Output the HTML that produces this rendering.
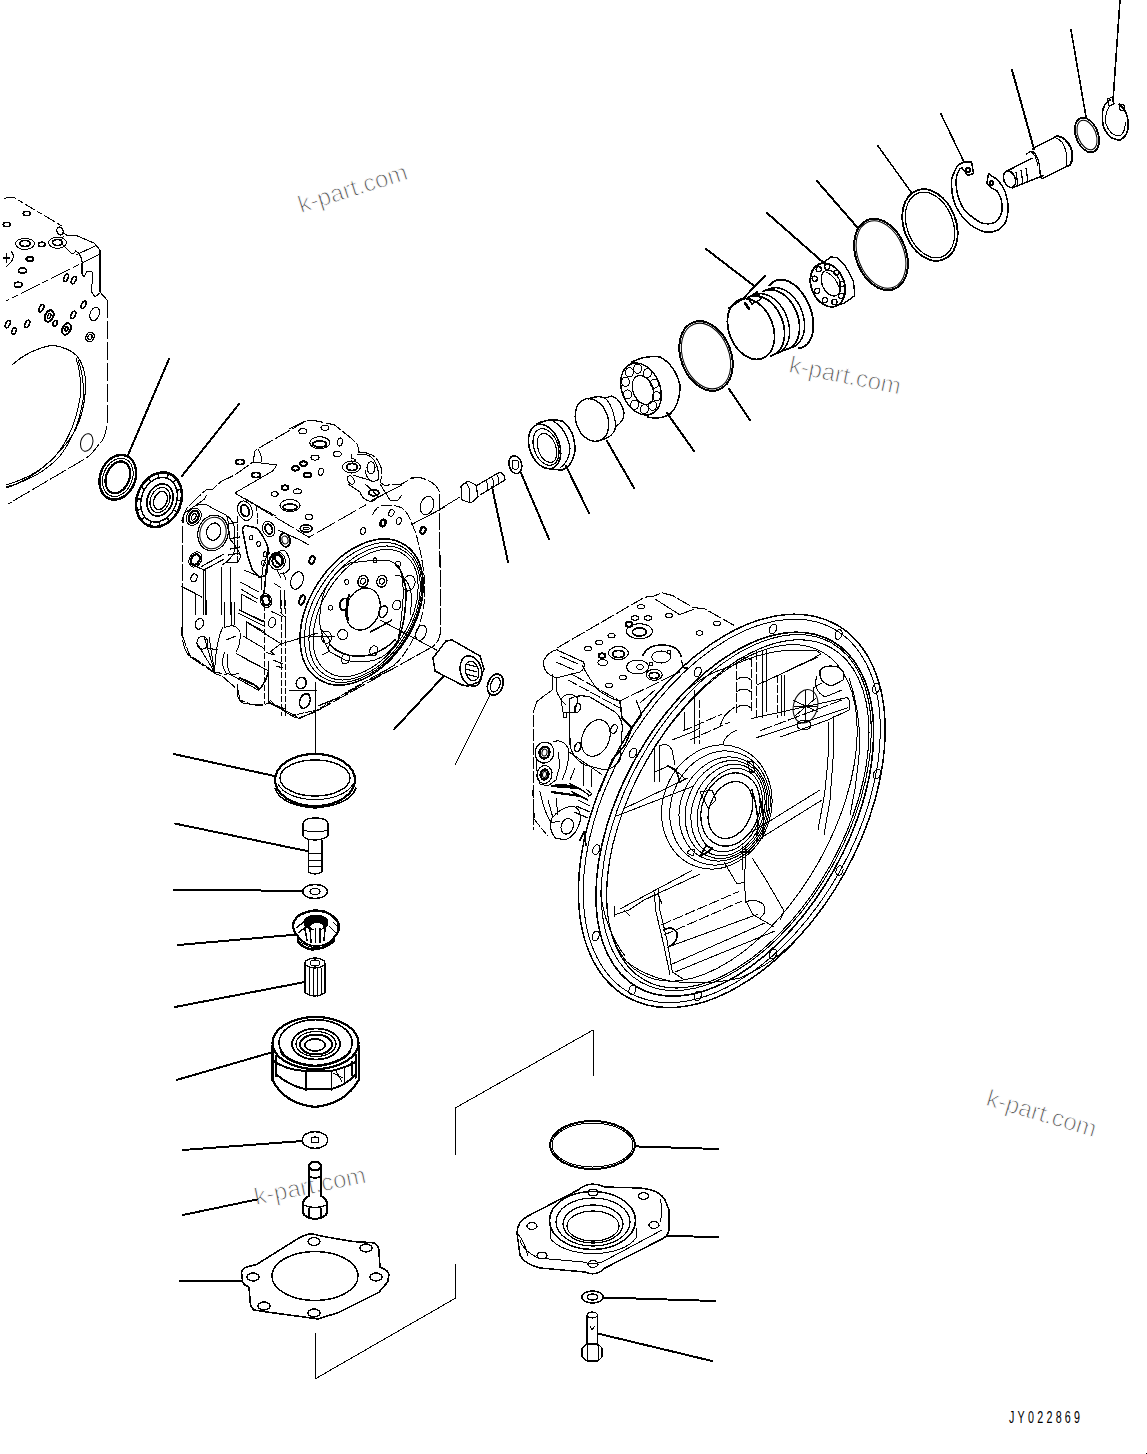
<!DOCTYPE html>
<html><head><meta charset="utf-8"><style>
html,body{margin:0;padding:0;background:#fff;width:1147px;height:1454px;overflow:hidden}
svg{display:block}
.wm{font-family:"Liberation Sans",sans-serif;font-size:24px;fill:#555;stroke:#fff;stroke-width:0.9px}
.code{font-family:"Liberation Sans",sans-serif;font-size:16.5px;fill:#000;letter-spacing:5px}
</style></head><body>
<svg width="1147" height="1454" viewBox="0 0 1147 1454" stroke="#000" stroke-linecap="round" stroke-linejoin="round" fill="none" shape-rendering="crispEdges">
<text class="wm" transform="translate(301,213) rotate(-17.5)" >k-part.com</text>
<text class="wm" transform="translate(788,372) rotate(11.5)" >k-part.com</text>
<text class="wm" transform="translate(985,1105) rotate(16.5)" >k-part.com</text>
<text class="wm" transform="translate(256,1205) rotate(-11.5)" >k-part.com</text>
<text class="code" transform="translate(1009,1422.8) scale(0.65,1)" stroke="none">JY022869</text>
<rect x="1146" y="1453" width="1" height="1" fill="#000" stroke="none"/>
<path d="M4,199 Q7,197 13,197 L62,226" stroke-width="1.0" fill="none" stroke-dasharray="12,3,5,3"/>
<ellipse cx="60" cy="231" rx="3" ry="4" transform="rotate(-20 60 231)" stroke-width="1.3" fill="none" />
<path d="M62,232 L68,236 L75,235 L94,243 L100,250 L100,292 L107,300" stroke-width="1.1" fill="none" />
<path d="M95,246 L76,255" stroke-width="1.0" fill="none" />
<path d="M100,254 L6,301" stroke-width="1.0" fill="none" stroke-dasharray="20,4,6,4"/>
<path d="M75,250 Q83,256 82,264 L82,274 L84,277 L87,271 L92,272 L93,277 L91,291 L95,297 L100,293" stroke-width="1.1" fill="none" />
<path d="M64,236 Q60,240 63,245 L70,252 Q74,256 76,250" stroke-width="1.0" fill="none" />
<path d="M107,300 L107,425 Q105,440 99,444 Q92,455 83,460 L8,504" stroke-width="1.0" fill="none" stroke-dasharray="18,3"/>
<path d="M12,365 Q28,350 52,345 Q70,348 77,356 Q88,370 85,395 Q82,425 66,444 Q50,462 41,469 Q25,482 6,488" stroke-width="1.1" fill="none" />
<path d="M76,358 Q82,375 80,398 Q75,430 58,453 Q40,475 6,485" stroke-width="1.0" fill="none" />
<path d="M78,360 Q85,378 83,400 Q78,432 60,456 Q40,478 6,487" stroke-width="1.0" fill="none" />
<ellipse cx="26.7" cy="213.5" rx="3.5" ry="2.2" stroke-width="1.6" fill="none" />
<ellipse cx="6.8" cy="224.5" rx="3.5" ry="2.2" stroke-width="1.6" fill="none" />
<ellipse cx="41.8" cy="244.4" rx="3.5" ry="2.2" stroke-width="1.6" fill="none" />
<ellipse cx="29.8" cy="259" rx="3.5" ry="2.2" stroke-width="1.8" fill="none" />
<ellipse cx="22.5" cy="270.6" rx="4" ry="2.5" stroke-width="1.6" fill="none" />
<ellipse cx="18.3" cy="284.7" rx="4" ry="2.5" stroke-width="1.6" fill="none" />
<ellipse cx="66" cy="277.9" rx="2" ry="4" transform="rotate(25 66 277.9)" stroke-width="1.6" fill="none" />
<ellipse cx="73.8" cy="280" rx="2" ry="4" transform="rotate(25 73.8 280)" stroke-width="1.6" fill="none" />
<ellipse cx="41.3" cy="308.2" rx="2" ry="4" transform="rotate(25 41.3 308.2)" stroke-width="1.6" fill="none" />
<ellipse cx="55" cy="323.4" rx="2" ry="3" transform="rotate(25 55 323.4)" stroke-width="1.8" fill="none" />
<ellipse cx="83.7" cy="304.6" rx="2" ry="4" transform="rotate(25 83.7 304.6)" stroke-width="1.6" fill="none" />
<ellipse cx="73.2" cy="315" rx="2" ry="4" transform="rotate(25 73.2 315)" stroke-width="1.6" fill="none" />
<ellipse cx="7.8" cy="324" rx="2" ry="4" transform="rotate(25 7.8 324)" stroke-width="1.6" fill="none" />
<ellipse cx="27.2" cy="324" rx="2" ry="4" transform="rotate(25 27.2 324)" stroke-width="1.6" fill="none" />
<ellipse cx="14" cy="331" rx="2" ry="3.5" transform="rotate(25 14 331)" stroke-width="1.5" fill="none" />
<ellipse cx="49.2" cy="316" rx="4" ry="6" transform="rotate(25 49.2 316)" stroke-width="2.0" fill="none" />
<ellipse cx="49.2" cy="316" rx="1.5" ry="2.5" transform="rotate(25 49.2 316)" stroke-width="1.5" fill="none" />
<ellipse cx="66.5" cy="329" rx="4" ry="6" transform="rotate(25 66.5 329)" stroke-width="2.0" fill="none" />
<ellipse cx="66.5" cy="329" rx="1.5" ry="2.5" transform="rotate(25 66.5 329)" stroke-width="1.5" fill="none" />
<ellipse cx="90" cy="337" rx="4" ry="5" transform="rotate(25 90 337)" stroke-width="1.3" fill="none" />
<ellipse cx="90" cy="337" rx="2" ry="2.5" transform="rotate(25 90 337)" stroke-width="1.2" fill="none" />
<ellipse cx="25" cy="243.9" rx="9.5" ry="5.5" stroke-width="1.0" fill="none" />
<ellipse cx="25" cy="243.5" rx="5" ry="3" stroke-width="1.8" fill="none" />
<ellipse cx="57.5" cy="242.8" rx="9" ry="5.5" stroke-width="1.0" fill="none" />
<ellipse cx="57.5" cy="242.5" rx="5" ry="3" stroke-width="1.8" fill="none" />
<ellipse cx="94.7" cy="314" rx="4.5" ry="7" transform="rotate(20 94.7 314)" stroke-width="1.0" fill="none" />
<ellipse cx="86.7" cy="442.5" rx="6" ry="9" transform="rotate(15 86.7 442.5)" stroke-width="1.0" fill="none" />
<path d="M11.5,251.7 Q17,258 6.3,266.4" stroke-width="1.0" fill="none" />
<path d="M4,258 L9,258 M6.5,254 L6.5,262" stroke-width="1.4" fill="none" />
<line x1="169" y1="359" x2="128" y2="455" stroke-width="2.0" />
<line x1="239" y1="404" x2="182" y2="476" stroke-width="2.0" />
<ellipse cx="117.8" cy="477.3" rx="17.5" ry="23" transform="rotate(22 117.8 477.3)" stroke-width="2.4" fill="none" />
<ellipse cx="117.8" cy="477.3" rx="11.5" ry="16.5" transform="rotate(22 117.8 477.3)" stroke-width="2.2" fill="none" />
<ellipse cx="117.8" cy="477.3" rx="14.5" ry="19.8" transform="rotate(22 117.8 477.3)" stroke-width="1.0" fill="none" />
<ellipse cx="159" cy="499.7" rx="22" ry="28" transform="rotate(22 159 499.7)" stroke-width="2.6" fill="none" />
<ellipse cx="159" cy="499.7" rx="17.5" ry="23" transform="rotate(22 159 499.7)" stroke-width="1.5" fill="none" />
<ellipse cx="160" cy="500" rx="12.5" ry="16.5" transform="rotate(22 160 500)" stroke-width="1.8" fill="none" />
<ellipse cx="160" cy="500" rx="9.5" ry="13" transform="rotate(22 160 500)" stroke-width="1.2" fill="none" />
<ellipse cx="160.5" cy="500.5" rx="6.5" ry="9.5" transform="rotate(22 160.5 500.5)" stroke-width="1.5" fill="none" />
<line x1="173.5" y1="509.9" x2="177.3" y2="512.3" stroke-width="1.5" />
<line x1="167.1" y1="517.5" x2="169.4" y2="521.5" stroke-width="1.5" />
<line x1="159.2" y1="521.6" x2="159.5" y2="526.4" stroke-width="1.5" />
<line x1="151.2" y1="521.3" x2="149.5" y2="526.0" stroke-width="1.5" />
<line x1="144.8" y1="516.8" x2="141.4" y2="520.4" stroke-width="1.5" />
<line x1="141.1" y1="508.9" x2="136.8" y2="510.7" stroke-width="1.5" />
<line x1="141.0" y1="499.2" x2="136.5" y2="498.8" stroke-width="1.5" />
<line x1="144.5" y1="489.5" x2="140.7" y2="487.1" stroke-width="1.5" />
<line x1="150.9" y1="481.9" x2="148.6" y2="477.9" stroke-width="1.5" />
<line x1="158.8" y1="477.8" x2="158.5" y2="473.0" stroke-width="1.5" />
<line x1="166.8" y1="478.1" x2="168.5" y2="473.4" stroke-width="1.5" />
<line x1="173.2" y1="482.6" x2="176.6" y2="479.0" stroke-width="1.5" />
<line x1="176.9" y1="490.5" x2="181.2" y2="488.7" stroke-width="1.5" />
<line x1="177.0" y1="500.2" x2="181.5" y2="500.6" stroke-width="1.5" />
<path d="M290,428.5 L306,420.5 L317,421 L334.6,425 L350.8,438 L357.6,444.7 L359,452.8" stroke-width="1.1" fill="none" stroke-dasharray="16,3"/>
<path d="M359,452 Q366,452 372,455 Q380,460 382,472 L380.5,482.6 L384.6,485.3 L402,484 L411.6,478 L421,477.8 Q436,482 439.5,492 L440.5,630 Q440,642 432,647" stroke-width="1.1" fill="none" stroke-dasharray="16,3"/>
<path d="M306,421 L258,448.6 L255,451 L253,462 L234.8,475 L221,481.5 L213,489 L206,490 L198,497 L190,505 Q184,510 183,520 L182,635 Q183,648 189,656 L216,674 L222,676 L238,690 L240,700 L250,704 L260,706 L269,703 L291,713.4 L299,718 L315,712 L432,647" stroke-width="1.1" fill="none" stroke-dasharray="16,3"/>
<path d="M234.8,493 L309,537.3 L365.7,504.9" stroke-width="1.0" fill="none" stroke-dasharray="20,4"/>
<path d="M253,462 L277,465 L272.6,471 L234.8,493" stroke-width="1.0" fill="none" />
<path d="M258,449 Q262,456 262,462" stroke-width="1.0" fill="none" />
<path d="M369.7,501.5 L402,485" stroke-width="1.0" fill="none" />
<path d="M411.6,524.5 L445,507" stroke-width="1.0" fill="none" />
<ellipse cx="302.8" cy="431.2" rx="4" ry="2.5" stroke-width="1.1" fill="none" />
<ellipse cx="325" cy="427.8" rx="4" ry="2.5" stroke-width="1.1" fill="none" />
<ellipse cx="337.3" cy="454" rx="4" ry="2.5" stroke-width="1.1" fill="none" />
<ellipse cx="315" cy="457.6" rx="4" ry="2.5" stroke-width="1.1" fill="none" />
<ellipse cx="303.5" cy="463.6" rx="3.5" ry="2.2" stroke-width="2.0" fill="none" />
<ellipse cx="295.4" cy="468.4" rx="3.5" ry="2.2" stroke-width="2.0" fill="none" />
<ellipse cx="307.6" cy="475" rx="3.5" ry="2.2" stroke-width="2.0" fill="none" />
<ellipse cx="297.4" cy="491.4" rx="4" ry="2.5" stroke-width="1.1" fill="none" />
<ellipse cx="309" cy="517" rx="4" ry="2.5" stroke-width="1.1" fill="none" />
<ellipse cx="285" cy="487.6" rx="3.5" ry="2.2" stroke-width="1.9" fill="none" />
<ellipse cx="274.6" cy="494" rx="3.5" ry="2.2" stroke-width="1.1" fill="none" />
<ellipse cx="240" cy="462" rx="4" ry="2.5" stroke-width="1.9" fill="none" />
<ellipse cx="340" cy="442" rx="2.5" ry="4" transform="rotate(10 340 442)" stroke-width="1.1" fill="none" />
<ellipse cx="321" cy="471.8" rx="2.5" ry="3.5" transform="rotate(20 321 471.8)" stroke-width="1.1" fill="none" />
<ellipse cx="319.7" cy="442.7" rx="10" ry="6" stroke-width="1.1" fill="none" />
<ellipse cx="319.7" cy="444" rx="7" ry="3" stroke-width="1.8" fill="none" />
<ellipse cx="290" cy="505.5" rx="10" ry="6" stroke-width="1.1" fill="none" />
<ellipse cx="290" cy="507" rx="7" ry="3" stroke-width="1.8" fill="none" />
<ellipse cx="306.2" cy="528.5" rx="6" ry="3.5" stroke-width="1.8" fill="none" />
<ellipse cx="306.2" cy="528.5" rx="3" ry="1.5" stroke-width="1.0" fill="none" />
<ellipse cx="256" cy="475" rx="4" ry="2.5" stroke-width="1.8" fill="none" />
<path d="M352,454 L351.5,458 L356,460 L352,463" stroke-width="1.0" fill="none" />
<ellipse cx="351.5" cy="467" rx="9" ry="6" stroke-width="1.1" fill="none" />
<ellipse cx="352" cy="467" rx="5.5" ry="3.5" stroke-width="1.8" fill="none" />
<path d="M357,455 Q368,452 374,460 Q380,470 378,480 L372,482 Q366,478 365,470" stroke-width="1.1" fill="none" />
<ellipse cx="371" cy="467.7" rx="4" ry="6" stroke-width="1.1" fill="none" />
<ellipse cx="350.8" cy="480" rx="3" ry="4.5" transform="rotate(-30 350.8 480)" stroke-width="1.1" fill="none" />
<path d="M348,484 L360,492 Q362,500 372,502 L378,497 L372,490 L365,484" stroke-width="1.0" fill="none" />
<ellipse cx="373.8" cy="492.7" rx="5" ry="3" stroke-width="2.0" fill="none" />
<path d="M380,484 L390,500 L398,500 L402,495" stroke-width="1.0" fill="none" />
<path d="M353,475 L372,481" stroke-width="1.0" fill="none" />
<ellipse cx="427" cy="505.5" rx="6.5" ry="9.5" transform="rotate(20 427 505.5)" stroke-width="1.1" fill="none" />
<ellipse cx="391.4" cy="513" rx="2.5" ry="3.5" transform="rotate(20 391.4 513)" stroke-width="1.1" fill="none" />
<ellipse cx="383" cy="523" rx="2.5" ry="3.5" transform="rotate(20 383 523)" stroke-width="2.2" fill="none" />
<ellipse cx="398.8" cy="521" rx="2.5" ry="3.5" transform="rotate(20 398.8 521)" stroke-width="1.1" fill="none" />
<ellipse cx="363" cy="531" rx="2.5" ry="3.5" transform="rotate(20 363 531)" stroke-width="1.1" fill="none" />
<ellipse cx="423" cy="530.5" rx="2.5" ry="3.5" transform="rotate(20 423 530.5)" stroke-width="2.2" fill="none" />
<ellipse cx="421" cy="632.8" rx="5" ry="8" transform="rotate(20 421 632.8)" stroke-width="1.1" fill="none" />
<ellipse cx="304.7" cy="700.8" rx="5" ry="8" transform="rotate(20 304.7 700.8)" stroke-width="1.1" fill="none" />
<ellipse cx="301" cy="683" rx="5" ry="5.5" transform="rotate(20 301 683)" stroke-width="1.1" fill="none" />
<ellipse cx="297" cy="580.5" rx="6" ry="9" transform="rotate(20 297 580.5)" stroke-width="1.1" fill="none" />
<ellipse cx="302" cy="600" rx="2.5" ry="5" transform="rotate(20 302 600)" stroke-width="2.0" fill="none" />
<ellipse cx="312" cy="560" rx="2.5" ry="4" transform="rotate(20 312 560)" stroke-width="2.0" fill="none" />
<path d="M372.4,515 Q376,506 384.6,505 Q396,505 402,508 Q409,514 411.6,523 Q417,535 418.4,543.4 Q425,570 425,594 Q424,612 418.4,627.8 Q410,648 398,661.6 Q388,670 377.8,675" stroke-width="1.0" fill="none" stroke-dasharray="10,3"/>
<ellipse cx="361.6" cy="612" rx="79.8" ry="52.3" transform="rotate(-57.5 361.6 612)" stroke-width="1.6" fill="none" />
<ellipse cx="363.1" cy="612.5" rx="76.5" ry="49.5" transform="rotate(-57.5 363.1 612.5)" stroke-width="1.0" fill="none" />
<ellipse cx="364.6" cy="613" rx="73.5" ry="46.5" transform="rotate(-57.5 364.6 613)" stroke-width="1.0" fill="none" />
<ellipse cx="365.6" cy="613" rx="70" ry="43.5" transform="rotate(-57.5 365.6 613)" stroke-width="1.0" fill="none" />
<path d="M375,560 L390,561 Q398,564 400,570 Q404,580 403,600 Q402,620 398,640 Q390,655 375,660 Q360,664 345,660 L330,652 Q322,640 320,625 Q319,605 325,590 Q333,572 350,563 Z" stroke-width="1.0" fill="none" />
<path d="M398,566 Q404,575 406,590 Q406,625 396,645" stroke-width="1.6" fill="none" />
<path d="M330,645 Q345,660 370,655 Q385,650 395,640" stroke-width="1.6" fill="none" />
<ellipse cx="363" cy="609" rx="16.6" ry="21.6" transform="rotate(20 363 609)" stroke-width="1.3" fill="none" />
<path d="M349,595 Q345,605 348,620" stroke-width="2.0" fill="none" />
<ellipse cx="363" cy="581.2" rx="5" ry="6" transform="rotate(20 363 581.2)" stroke-width="1.4" fill="none" />
<ellipse cx="363" cy="581.2" rx="2.5" ry="3" transform="rotate(20 363 581.2)" stroke-width="1.0" fill="none" />
<ellipse cx="381.9" cy="581.2" rx="5" ry="6" transform="rotate(20 381.9 581.2)" stroke-width="1.2" fill="none" />
<ellipse cx="381.9" cy="581.2" rx="2.5" ry="3" transform="rotate(20 381.9 581.2)" stroke-width="1.0" fill="none" />
<ellipse cx="344" cy="604.2" rx="4" ry="6" transform="rotate(20 344 604.2)" stroke-width="1.8" fill="none" />
<ellipse cx="383.2" cy="611.6" rx="4" ry="6" transform="rotate(20 383.2 611.6)" stroke-width="1.4" fill="none" />
<ellipse cx="342.7" cy="634.6" rx="5" ry="5" stroke-width="1.1" fill="none" />
<ellipse cx="396.8" cy="605" rx="4" ry="5" transform="rotate(20 396.8 605)" stroke-width="1.1" fill="none" />
<ellipse cx="408.9" cy="583.2" rx="6" ry="8" transform="rotate(20 408.9 583.2)" stroke-width="1.1" fill="none" />
<ellipse cx="373.8" cy="650.8" rx="4" ry="5" transform="rotate(20 373.8 650.8)" stroke-width="1.1" fill="none" />
<ellipse cx="345.4" cy="659" rx="4" ry="5" transform="rotate(20 345.4 659)" stroke-width="1.1" fill="none" />
<ellipse cx="326.5" cy="637.3" rx="5" ry="6" stroke-width="1.0" fill="none" />
<ellipse cx="330.5" cy="607.6" rx="2" ry="2.5" stroke-width="1.0" fill="none" />
<ellipse cx="346.8" cy="581.9" rx="2" ry="2.5" stroke-width="1.0" fill="none" />
<ellipse cx="375" cy="560.3" rx="2" ry="2.5" stroke-width="1.0" fill="none" />
<ellipse cx="398" cy="564.3" rx="2.5" ry="3" stroke-width="1.0" fill="none" />
<path d="M395,575 Q410,575 412,600 L410,615" stroke-width="1.0" fill="none" />
<path d="M320,628 L330,640 L328,652 L322,655" stroke-width="1.0" fill="none" />
<path d="M310,636 L335,636" stroke-width="1.0" fill="none" />
<path d="M370,632 L378,628 L392,620" stroke-width="1.4" fill="none" />
<path d="M290,716 L317,710 L357,686 L395,665" stroke-width="1.0" fill="none" stroke-dasharray="6,2"/>
<path d="M318,706 L340,697 M345,694 L362,684 M370,680 L394,668" stroke-width="1.3" fill="none" />
<path d="M181.9,521 Q183,514 186.7,511.6 L195.4,505.5 L204.2,499.4 L206.8,495" stroke-width="1.0" fill="none" />
<path d="M182.9,600 L182.9,636.6 L185.3,644 L189.6,655 L214.6,672 L226.8,674.5" stroke-width="1.0" fill="none" stroke-dasharray="10,2"/>
<ellipse cx="193.7" cy="516.8" rx="4.5" ry="6.5" transform="rotate(30 193.7 516.8)" stroke-width="2.2" fill="none" />
<ellipse cx="193.7" cy="516.8" rx="2" ry="3.5" transform="rotate(30 193.7 516.8)" stroke-width="1.0" fill="none" />
<ellipse cx="193.7" cy="516.8" rx="7" ry="9" transform="rotate(30 193.7 516.8)" stroke-width="1.0" fill="none" />
<ellipse cx="213" cy="533" rx="15" ry="18" transform="rotate(15 213 533)" stroke-width="1.2" fill="none" />
<ellipse cx="213.7" cy="531.6" rx="7" ry="8.7" transform="rotate(15 213.7 531.6)" stroke-width="1.2" fill="none" />
<ellipse cx="213" cy="533" rx="13" ry="16" transform="rotate(15 213 533)" stroke-width="1.0" fill="none" />
<path d="M196.3,505.5 Q205,502 212,508 L226,515 Q234,520 235,532 L234,552 Q231,560 222,565" stroke-width="1.0" fill="none" />
<ellipse cx="195.4" cy="559.5" rx="4" ry="5.5" transform="rotate(30 195.4 559.5)" stroke-width="2.2" fill="none" />
<ellipse cx="195.4" cy="559.5" rx="6" ry="8" transform="rotate(30 195.4 559.5)" stroke-width="1.0" fill="none" />
<path d="M190.2,563.9 L204.2,570 M201.5,566.5 L223.3,554.3 M204,570 L223.3,559.5" stroke-width="1.2" fill="none" />
<path d="M203.3,570.8 L203.3,615 M205.9,570.8 L205.9,615" stroke-width="1.0" fill="none" />
<ellipse cx="194" cy="577.8" rx="3" ry="4" transform="rotate(20 194 577.8)" stroke-width="1.1" fill="none" />
<path d="M181.5,586.5 L195.4,593.5 L201.5,597 M195.4,593.5 L195.4,615" stroke-width="1.0" fill="none" />
<path d="M221.6,567.4 L221.6,615 M230.3,567.4 L230.3,615" stroke-width="1.0" fill="none" />
<path d="M226.8,516 Q229,524 228.6,523.8 L229.4,538.6 Q236,545 240.8,556 L238,562 L226.8,563" stroke-width="1.0" fill="none" />
<path d="M229,524 L238,522 M229.4,538.6 L240,537 M230,549 L240,547 M228,555 L240,553" stroke-width="1.2" fill="none" />
<path d="M237.3,516.8 L237.3,562" stroke-width="1.0" fill="none" stroke-dasharray="6,2"/>
<path d="M242.5,530 Q243,524 248,526 L256.5,528 Q264,535 268,548 L267,571.7 L265,576 L259,577 L252,569 L247.7,556 Z" stroke-width="1.6" fill="none" />
<ellipse cx="251.2" cy="537.7" rx="1.8" ry="2.3" stroke-width="1.0" fill="none" />
<ellipse cx="258.6" cy="543.8" rx="1.8" ry="2.5" stroke-width="1.0" fill="none" />
<ellipse cx="265.2" cy="554.3" rx="1.8" ry="2.5" stroke-width="1.0" fill="none" />
<ellipse cx="263.4" cy="563" rx="1.8" ry="2.5" stroke-width="1.0" fill="none" />
<ellipse cx="245" cy="510.7" rx="7" ry="10" transform="rotate(-20 245 510.7)" stroke-width="1.0" fill="none" />
<ellipse cx="245" cy="510.7" rx="4" ry="6" transform="rotate(-20 245 510.7)" stroke-width="1.8" fill="none" />
<ellipse cx="268.7" cy="529" rx="6" ry="8" transform="rotate(-20 268.7 529)" stroke-width="1.0" fill="none" />
<ellipse cx="268.7" cy="529" rx="3.5" ry="5" transform="rotate(-20 268.7 529)" stroke-width="1.8" fill="none" />
<ellipse cx="266" cy="600.5" rx="3.5" ry="5" transform="rotate(-20 266 600.5)" stroke-width="2.2" fill="none" />
<ellipse cx="266" cy="600.5" rx="5.5" ry="7" transform="rotate(-20 266 600.5)" stroke-width="1.0" fill="none" />
<path d="M240.8,582.2 L258.2,591.8 M240.8,589 L257.3,598.8 M241.6,594.4 L256.5,602.2 M241.6,594.4 L241.6,608" stroke-width="1.0" fill="none" />
<path d="M256.5,506 L258,523.8" stroke-width="1.0" fill="none" stroke-dasharray="5,2"/>
<path d="M245,498.5 L258.2,506.3 L276,516" stroke-width="1.0" fill="none" />
<ellipse cx="277.3" cy="561" rx="5" ry="6" stroke-width="2.0" fill="none" />
<ellipse cx="277.3" cy="561" rx="8" ry="9" stroke-width="1.0" fill="none" />
<ellipse cx="285" cy="540" rx="5" ry="7" transform="rotate(-15 285 540)" stroke-width="1.6" fill="none" />
<ellipse cx="285" cy="540" rx="3" ry="4" transform="rotate(-15 285 540)" stroke-width="1.0" fill="none" />
<path d="M278,530 L300,540 L309,545" stroke-width="1.0" fill="none" />
<ellipse cx="272" cy="622.6" rx="3.5" ry="5" transform="rotate(15 272 622.6)" stroke-width="1.1" fill="none" />
<ellipse cx="199.4" cy="623.8" rx="4" ry="5.5" transform="rotate(20 199.4 623.8)" stroke-width="1.1" fill="none" />
<ellipse cx="202.4" cy="642.7" rx="5.5" ry="6.5" stroke-width="1.1" fill="none" />
<path d="M204,636 L214.6,672 M209,637 L214.6,672 M198,645 L214.6,672 M207,648 L218,650" stroke-width="1.0" fill="none" />
<path d="M206,600 L206,614.6 M224.4,602 L224.4,628 M231.7,602 L231.7,625 M234,602 L234,625 M241.5,602 L241.5,610 M246.3,622 L246.3,638" stroke-width="1.0" fill="none" />
<path d="M223,627 Q216,640 214.6,672" stroke-width="1.0" fill="none" />
<path d="M224,628 Q235,622 240,632 Q241,645 236,652" stroke-width="1.0" fill="none" />
<path d="M226,640 L236,636" stroke-width="1.2" fill="none" />
<path d="M224.4,652.5 Q220,665 226,673 Q232,676 239,673" stroke-width="1.0" fill="none" />
<path d="M228,654 Q225,664 230.5,674.5" stroke-width="1.0" fill="none" />
<path d="M236.6,653.7 L268.3,670.8 M230.5,674.5 L258.6,690.3" stroke-width="1.0" fill="none" />
<path d="M240,678 L252,684 M245,680 Q255,684 258,688" stroke-width="1.6" fill="none" />
<path d="M258.6,690.3 Q266,682 268.3,672" stroke-width="1.6" fill="none" />
<path d="M237.8,684.2 L237.8,696.4 Q240,702 244,703.7 L263.4,705 M268.3,701.3 L294,717.2 L300,718.4 L318,709.8" stroke-width="1.0" fill="none" />
<path d="M264.7,605 L264.7,704" stroke-width="1.0" fill="none" stroke-dasharray="6,2"/>
<path d="M268.3,661 L268.3,704" stroke-width="1.0" fill="none" />
<path d="M281.7,600 L281.7,716 M285.4,600 L285.4,716" stroke-width="1.0" fill="none" stroke-dasharray="6,2"/>
<path d="M239,609.8 L263.4,622 M239,613.4 L263.4,625.6 M246.3,622 L279.3,642.7 M244,636.6 L264.7,648.8 M242.7,657.4 L263.4,668.4" stroke-width="1.0" fill="none" />
<ellipse cx="301.3" cy="683" rx="5" ry="6" transform="rotate(20 301.3 683)" stroke-width="1.1" fill="none" />
<ellipse cx="305" cy="701.3" rx="5" ry="7" transform="rotate(20 305 701.3)" stroke-width="1.1" fill="none" />
<path d="M280.5,644 L318,633 M270.8,651.3 L280.5,644 M266,652.5 L274.4,655 L270.8,651.3" stroke-width="1.0" fill="none" />
<path d="M273,660 L283,664 M276,666 L283,668" stroke-width="1.0" fill="none" />
<path d="M289,690 L317,690" stroke-width="1.0" fill="none" />
<path d="M270,700 L275,705 L285,709" stroke-width="1.0" fill="none" />
<path d="M274.2,553.8 Q268,560 266,571 L265,585 Q264,592 262.5,598.5 Q262,604 264.6,606" stroke-width="1.6" fill="none" stroke-dasharray="4,1.5"/>
<path d="M270,552 Q262,562 262,575 L261,590" stroke-width="1.0" fill="none" />
<path d="M244.6,570.3 L257.7,575.8 M239,610 L263.9,621.2 M246.7,621.8 L263.9,631.5 M274.2,583.3 L280.4,587.5 M271.5,611.5 L283,617" stroke-width="1.0" fill="none" />
<path d="M280.4,590.2 L280.4,608.8 M284.5,590.2 L284.5,608.8 M280,612 L285,617 L285.2,619 L285.2,636" stroke-width="1.0" fill="none" />
<path d="M273.5,560 Q276,550 284,550 Q291,556 290,568 Q286,575 280,573" stroke-width="1.0" fill="none" />
<ellipse cx="279" cy="559.3" rx="3.5" ry="6" transform="rotate(-30 279 559.3)" stroke-width="2.2" fill="none" />
<path d="M277,570 L281,578 M283,572 L286,580" stroke-width="1.0" fill="none" />
<line x1="440" y1="509" x2="460" y2="497" stroke-width="1.0" />
<path d="M461,486 L468,481 L476,485 L478,497 L471,503 L462,500 Z" stroke-width="1.2" fill="none" />
<path d="M466,482 L470,490 L469,502" stroke-width="1.0" fill="none" />
<path d="M476,486 L500,472 Q505,474 505,480 L480,495" stroke-width="1.2" fill="none" />
<path d="M486,481 Q489,485 487,490" stroke-width="1.0" fill="none" />
<path d="M492,478 Q495,482 493,487" stroke-width="1.0" fill="none" />
<path d="M497,475 Q500,479 498,484" stroke-width="1.0" fill="none" />
<line x1="492" y1="487" x2="508" y2="562" stroke-width="2.0" />
<ellipse cx="515.3" cy="464.6" rx="6.3" ry="9" transform="rotate(-15 515.3 464.6)" stroke-width="1.5" fill="none" />
<path d="M513,460 L518,461 L519,467 L516,470 L512,468 Z" stroke-width="1.0" fill="none" />
<line x1="521" y1="473" x2="549" y2="539" stroke-width="2.0" />
<ellipse cx="544.6" cy="446.5" rx="15" ry="23" transform="rotate(-20 544.6 446.5)" stroke-width="1.6" fill="none" />
<ellipse cx="546" cy="447" rx="12" ry="19" transform="rotate(-20 546 447)" stroke-width="1.2" fill="none" />
<ellipse cx="547" cy="448" rx="9" ry="15" transform="rotate(-20 547 448)" stroke-width="1.2" fill="none" />
<path d="M537,424 Q548,418 562,421 Q575,430 575,450 Q573,466 562,470 L550,469" stroke-width="1.6" fill="none" />
<path d="M553,421 Q566,428 570,448 Q569,462 560,468" stroke-width="1.2" fill="none" />
<line x1="566" y1="466" x2="589" y2="513" stroke-width="2.0" />
<ellipse cx="592" cy="420" rx="16" ry="22" transform="rotate(-20 592 420)" stroke-width="1.4" fill="none" />
<path d="M588,399 Q597,395 605,398 L612,396 Q622,400 624,413 Q624,422 616,426 L614,432 Q608,440 596,441" stroke-width="1.3" fill="none" />
<path d="M605,398 Q613,405 616,426" stroke-width="1.1" fill="none" />
<line x1="607" y1="441" x2="634" y2="488" stroke-width="2.0" />
<ellipse cx="641" cy="389" rx="19" ry="27" transform="rotate(-22 641 389)" stroke-width="1.5" fill="none" />
<ellipse cx="643" cy="390" rx="10" ry="15" transform="rotate(-22 643 390)" stroke-width="1.2" fill="none" />
<path d="M632,362 Q645,355 660,357 Q675,365 680,385 Q680,405 670,414 Q660,420 648,417" stroke-width="1.5" fill="none" />
<ellipse cx="654.4" cy="383.6" rx="4" ry="4.5" stroke-width="1.0" fill="none" />
<ellipse cx="656.5" cy="396.1" rx="4" ry="4.5" stroke-width="1.0" fill="none" />
<ellipse cx="652.6" cy="405.8" rx="4" ry="4.5" stroke-width="1.0" fill="none" />
<ellipse cx="644.3" cy="409.2" rx="4" ry="4.5" stroke-width="1.0" fill="none" />
<ellipse cx="634.7" cy="404.8" rx="4" ry="4.5" stroke-width="1.0" fill="none" />
<ellipse cx="627.6" cy="394.4" rx="4" ry="4.5" stroke-width="1.0" fill="none" />
<ellipse cx="625.5" cy="381.9" rx="4" ry="4.5" stroke-width="1.0" fill="none" />
<ellipse cx="629.4" cy="372.2" rx="4" ry="4.5" stroke-width="1.0" fill="none" />
<ellipse cx="637.7" cy="368.8" rx="4" ry="4.5" stroke-width="1.0" fill="none" />
<ellipse cx="647.3" cy="373.2" rx="4" ry="4.5" stroke-width="1.0" fill="none" />
<line x1="667" y1="413" x2="694" y2="451" stroke-width="2.0" />
<ellipse cx="706" cy="356" rx="25" ry="36" transform="rotate(-21 706 356)" stroke-width="2.0" fill="none" />
<ellipse cx="706" cy="356" rx="23" ry="34" transform="rotate(-21 706 356)" stroke-width="1.0" fill="none" />
<line x1="729" y1="389" x2="750" y2="420" stroke-width="2.0" />
<ellipse cx="751" cy="329" rx="22" ry="31.5" transform="rotate(-22 751 329)" stroke-width="1.8" fill="none" />
<path d="M747.5,297.6 L750.3,296.4 L753.2,295.8 L756.4,295.7 L759.6,296.2 L762.9,297.3 L766.1,298.9 L769.2,301.0 L772.2,303.7 L774.9,306.7 L777.4,310.1 L779.6,313.8 L781.4,317.8 L782.8,321.9 L783.8,326.0 L784.4,330.2 L784.6,334.3 L784.2,338.3 L783.5,342.0 L782.3,345.4 L780.7,348.4 L778.7,351.0 L776.4,353.1 L773.8,354.7 L771.0,355.8" stroke-width="1.7" fill="none" />
<path d="M752.5,295.6 L755.3,294.4 L758.2,293.8 L761.4,293.7 L764.6,294.2 L767.9,295.3 L771.1,296.9 L774.2,299.0 L777.2,301.7 L779.9,304.7 L782.4,308.1 L784.6,311.8 L786.4,315.8 L787.8,319.9 L788.8,324.0 L789.4,328.2 L789.6,332.3 L789.2,336.3 L788.5,340.0 L787.3,343.4 L785.7,346.4 L783.7,349.0 L781.4,351.1 L778.8,352.7 L776.0,353.8" stroke-width="1.5" fill="none" />
<path d="M762.5,291.6 L765.3,290.4 L768.2,289.8 L771.4,289.7 L774.6,290.2 L777.9,291.3 L781.1,292.9 L784.2,295.0 L787.2,297.7 L789.9,300.7 L792.4,304.1 L794.6,307.8 L796.4,311.8 L797.8,315.9 L798.8,320.0 L799.4,324.2 L799.6,328.3 L799.2,332.3 L798.5,336.0 L797.3,339.4 L795.7,342.4 L793.7,345.0 L791.4,347.1 L788.8,348.7 L786.0,349.8" stroke-width="1.7" fill="none" />
<path d="M767.5,289.6 L770.3,288.4 L773.2,287.8 L776.4,287.7 L779.6,288.2 L782.9,289.3 L786.1,290.9 L789.2,293.0 L792.2,295.7 L794.9,298.7 L797.4,302.1 L799.6,305.8 L801.4,309.8 L802.8,313.9 L803.8,318.0 L804.4,322.2 L804.6,326.3 L804.2,330.3 L803.5,334.0 L802.3,337.4 L800.7,340.4 L798.7,343.0 L796.4,345.1 L793.8,346.7 L791.0,347.8" stroke-width="1.5" fill="none" />
<path d="M769.4,285.5 L771.8,282.9 L774.6,281.0 L777.8,279.9 L781.3,279.6 L784.9,280.1 L788.6,281.4 L792.3,283.5 L796.0,286.2 L799.4,289.6 L802.7,293.6 L805.6,298.1 L808.1,302.9 L810.2,308.0 L811.8,313.2 L812.9,318.4 L813.4,323.6 L813.3,328.5 L812.7,333.0 L811.5,337.2 L809.8,340.8 L807.7,343.7 L805.0,346.0 L802.0,347.6 L798.7,348.3" stroke-width="1.8" fill="none" />
<path d="M729,308 L744,298 L752,289 L765,276" stroke-width="1.8" fill="none" />
<path d="M748,298 L757,292 L761,299 L752,304 Z" stroke-width="1.5" fill="none" />
<path d="M745,303 L749,309" stroke-width="3" fill="none" />
<line x1="706" y1="249" x2="753" y2="285" stroke-width="2.0" />
<path d="M771,356 L787,349" stroke-width="1.6" fill="none" />
<path d="M822.2,263 L831,257 L837,257.8 L844.5,264.5 L853.4,280.8 L854.8,295.6 L844.5,303 L831,307.5" stroke-width="1.4" fill="none" />
<ellipse cx="827.8" cy="285" rx="16.5" ry="22.6" transform="rotate(-22 827.8 285)" stroke-width="1.8" fill="none" />
<ellipse cx="831" cy="283" rx="9" ry="13.5" transform="rotate(-22 831 283)" stroke-width="1.3" fill="none" />
<path d="M826,272 Q836,276 840,290" stroke-width="1.0" fill="none" />
<ellipse cx="841.9" cy="284.2" rx="2.6" ry="2.6" stroke-width="1.3" fill="none" />
<ellipse cx="841.1" cy="295.8" rx="2.6" ry="2.6" stroke-width="1.3" fill="none" />
<ellipse cx="834.4" cy="302.0" rx="2.6" ry="2.6" stroke-width="1.3" fill="none" />
<ellipse cx="824.9" cy="300.1" rx="2.6" ry="2.6" stroke-width="1.3" fill="none" />
<ellipse cx="817.1" cy="290.8" rx="2.6" ry="2.6" stroke-width="1.3" fill="none" />
<ellipse cx="814.7" cy="278.7" rx="2.6" ry="2.6" stroke-width="1.3" fill="none" />
<ellipse cx="818.7" cy="269.2" rx="2.6" ry="2.6" stroke-width="1.3" fill="none" />
<ellipse cx="827.3" cy="266.9" rx="2.6" ry="2.6" stroke-width="1.3" fill="none" />
<ellipse cx="836.5" cy="272.8" rx="2.6" ry="2.6" stroke-width="1.3" fill="none" />
<line x1="767" y1="213" x2="825" y2="264" stroke-width="2.0" />
<ellipse cx="881" cy="254.5" rx="25" ry="37" transform="rotate(-21 881 254.5)" stroke-width="2.0" fill="none" />
<ellipse cx="881" cy="254.5" rx="23" ry="35" transform="rotate(-21 881 254.5)" stroke-width="1.0" fill="none" />
<line x1="817" y1="181" x2="857" y2="227" stroke-width="2.0" />
<ellipse cx="930" cy="225" rx="26" ry="37" transform="rotate(-21 930 225)" stroke-width="1.8" fill="none" />
<ellipse cx="930" cy="225" rx="23" ry="34" transform="rotate(-21 930 225)" stroke-width="1.2" fill="none" />
<line x1="878" y1="146" x2="911" y2="192" stroke-width="1.5" />
<path d="M971.6,162 L964,162 Q956,165 954.6,171.6 Q950,180 951.8,188.6 Q952,198 956.5,207.6 Q961,216 967.8,222.7 Q975,229 984.9,232 Q992,233 998,230 Q1005,226 1006.6,219 Q1009,210 1007.6,201.9 Q1006,190 1000,183 Q995,177 990.5,175.4 L988.6,173.5 L986.8,183 L992.4,188.6 Q997,190 998,192.4 Q1003,200 1001.9,211.3 Q1000,219 994.3,222.7 Q988,225 981,222.7 Q972,218 964,209.5 Q958,200 956.5,188.6 Q955,178 958.4,171.6 Q960,168 962,167.8 L967.8,175.4 L973.5,173.5 Z" stroke-width="1.5" fill="none" />
<ellipse cx="968" cy="170" rx="1.8" ry="1.8" stroke-width="2.2" fill="none" />
<ellipse cx="991.5" cy="183" rx="1.8" ry="1.8" stroke-width="2.2" fill="none" />
<line x1="941" y1="114" x2="964" y2="162" stroke-width="1.5" />
<ellipse cx="1009.5" cy="179.2" rx="5.7" ry="8.5" transform="rotate(-20 1009.5 179.2)" stroke-width="1.5" fill="none" />
<path d="M1008,170.5 L1032,158.4 M1012,188 L1043.5,175.4" stroke-width="1.4" fill="none" />
<path d="M1016,172 L1018,186 M1021,170 L1023,184 M1026,168 L1028,182" stroke-width="1.3" fill="none" />
<path d="M1026,155 Q1030,150 1034,152 Q1040,160 1040,172 Q1040,180 1043.5,178" stroke-width="1.3" fill="none" />
<path d="M1030,151 Q1036,154 1038,166" stroke-width="1.0" fill="none" />
<path d="M1032,149 L1057,136 M1043.5,178 L1070,165" stroke-width="1.4" fill="none" />
<path d="M1057,136 Q1066,137 1071,148 Q1074,158 1070,165" stroke-width="2.0" fill="none" />
<path d="M1054,137 Q1064,140 1066,152 Q1068,160 1066,166" stroke-width="1.0" fill="none" />
<line x1="1012" y1="70" x2="1034" y2="149" stroke-width="2.0" />
<ellipse cx="1087" cy="135" rx="11" ry="18" transform="rotate(-21 1087 135)" stroke-width="1.8" fill="none" />
<ellipse cx="1087" cy="135" rx="9" ry="15.5" transform="rotate(-21 1087 135)" stroke-width="1.0" fill="none" />
<line x1="1071" y1="30" x2="1086" y2="117" stroke-width="1.6" />
<path d="M1110,100 Q1100,105 1103,125 Q1108,140 1120,140 Q1130,135 1128,120 Q1126,110 1121,106" stroke-width="1.6" fill="none" />
<path d="M1112,104 Q1104,110 1106,124 Q1110,136 1120,136 Q1126,132 1125,120" stroke-width="1.0" fill="none" />
<path d="M1107,99 L1113,97 L1114,104 L1109,106 Z" stroke-width="1.2" fill="none" />
<path d="M1119,104 L1124,105 L1125,111 L1120,110 Z" stroke-width="1.2" fill="none" />
<line x1="1120" y1="0" x2="1113" y2="101" stroke-width="1.6" />
<line x1="380" y1="620" x2="436.5" y2="650" stroke-width="1.0" />
<path d="M433,658 L446,641 L452,640 L480,656 L484,669 L479,682 L468,686 L462,685 L435,671 Z" stroke-width="1.5" fill="none" />
<ellipse cx="471" cy="671" rx="10.5" ry="15.5" transform="rotate(-15 471 671)" stroke-width="1.5" fill="none" />
<ellipse cx="472" cy="671" rx="6.5" ry="10" transform="rotate(-15 472 671)" stroke-width="1.3" fill="none" />
<path d="M466,664 L477,667 M466,669 L477,672 M466,674 L477,677" stroke-width="1.2" fill="none" />
<line x1="442.8" y1="677" x2="394" y2="729.5" stroke-width="2.0" />
<ellipse cx="495.3" cy="684.7" rx="7.5" ry="11" transform="rotate(20 495.3 684.7)" stroke-width="1.7" fill="none" />
<ellipse cx="495.3" cy="684.7" rx="4.5" ry="7.5" transform="rotate(20 495.3 684.7)" stroke-width="1.2" fill="none" />
<line x1="490.6" y1="694" x2="455.3" y2="764.8" stroke-width="1.0" />
<line x1="315" y1="682" x2="315" y2="753" stroke-width="1.0" />
<line x1="173.6" y1="754" x2="274.5" y2="776" stroke-width="2.0" />
<ellipse cx="315" cy="780" rx="40" ry="26" stroke-width="2.2" fill="none" />
<ellipse cx="315" cy="778" rx="35" ry="18" stroke-width="1.4" fill="none" />
<path d="M275,788 Q280,805 315,808 Q350,805 356,788" stroke-width="1.4" fill="none" />
<path d="M278,784 Q285,798 315,800 Q345,798 353,784" stroke-width="1.0" fill="none" />
<path d="M303,824 Q303,818 315,818 Q328,818 328,824 L328,836 Q322,840 315,840 Q306,840 303,836 Z" stroke-width="1.3" fill="none" />
<path d="M303,830 Q315,834 328,830" stroke-width="1.0" fill="none" />
<path d="M308.5,840 L308.5,872 Q315,876 322,872 L322,840" stroke-width="1.3" fill="none" />
<path d="M309,853 L321,853 M309,860 L321,860 M309,866 L321,866" stroke-width="1.0" fill="none" />
<line x1="174.7" y1="823.5" x2="307" y2="851" stroke-width="2.0" />
<ellipse cx="315" cy="891.5" rx="12.5" ry="7" stroke-width="1.5" fill="none" />
<ellipse cx="315" cy="891.5" rx="5" ry="3" stroke-width="1.2" fill="none" />
<path d="M173.6,890 L240,890 L303,891.5" stroke-width="2.0" fill="none" />
<path d="M293,924 Q296,916 302,913.8 Q310,910.5 316,910.5 Q326,911 330.2,914.4 Q336,918 338.5,923.4 L338.5,930.3 Q337,935 334.3,937 L333.6,941.3 Q325,949 312.3,949.5 Q302,948 297.9,941.3 L297.9,936 Q293,932 293,924 Z" stroke-width="2.4" fill="none" />
<ellipse cx="316" cy="922.5" rx="12.5" ry="8" fill="#000" stroke="none"/>
<ellipse cx="317" cy="926.5" rx="6.5" ry="3.5" fill="#fff" stroke="none"/>
<path d="M303,914 Q316,906 330,915" stroke-width="1.0" fill="none" />
<path d="M296,928 L304,922 M298,933 L307,926 M333,922 L338,927 M329,926 L336,933" stroke-width="1.4" fill="none" />
<path d="M305,929 L307,940 M310,929 L311,942 M315.5,929 L315.5,942 M320,929 L320,942 M325,929 L324,940" stroke-width="1.5" fill="none" />
<path d="M298,937 Q306,946 316,946 Q328,946 334,938" stroke-width="1.8" fill="none" />
<path d="M300,942 Q310,948 318,948 Q328,947 332,943" stroke-width="1.0" fill="none" />
<line x1="178" y1="945" x2="296" y2="934.6" stroke-width="2.0" />
<ellipse cx="315" cy="963" rx="10" ry="5" stroke-width="1.3" fill="none" />
<ellipse cx="315" cy="963" rx="5" ry="3" stroke-width="1.2" fill="none" />
<path d="M305,963 L305,993 Q315,999 325,993 L325,963" stroke-width="1.3" fill="none" />
<path d="M309,968 L309,995 M313,968 L313,997 M317,968 L317,997 M321,968 L321,995" stroke-width="1.0" fill="none" />
<line x1="175" y1="1007" x2="305" y2="982" stroke-width="2.0" />
<ellipse cx="315.5" cy="1043" rx="43" ry="26" stroke-width="2.2" fill="none" />
<ellipse cx="315.6" cy="1042.7" rx="36.6" ry="23" stroke-width="1.6" fill="none" />
<path d="M281,1052 Q290,1064 315,1066 Q340,1064 350,1052" stroke-width="2.6" fill="none" />
<ellipse cx="316" cy="1044" rx="24" ry="15.5" stroke-width="1.8" fill="none" />
<ellipse cx="316" cy="1044" rx="20" ry="12.5" stroke-width="1.2" fill="none" />
<ellipse cx="316" cy="1044.5" rx="16" ry="10" stroke-width="2.0" fill="none" />
<ellipse cx="315" cy="1045" rx="10" ry="6" stroke-width="1.8" fill="none" />
<path d="M272.4,1046 L272.4,1080 Q285,1104 315,1107 Q345,1104 358.7,1080 L358.7,1046" stroke-width="2.2" fill="none" />
<path d="M276.3,1056 L276.3,1076" stroke-width="2.0" fill="none" />
<path d="M355.7,1054 L355.7,1078" stroke-width="1.6" fill="none" />
<path d="M276.3,1074.5 Q290,1086 306,1089.3 L330.4,1089.3 Q345,1086 355.7,1074.5" stroke-width="2.0" fill="none" />
<path d="M272.4,1060 Q285,1070 306,1071 L331,1071 Q345,1068 355.7,1062" stroke-width="2.0" fill="none" />
<path d="M306,1071 L306,1090 M331.3,1071 L331.3,1090 M344.3,1067 L344.3,1084 M352,1062 L352,1075" stroke-width="1.6" fill="none" />
<path d="M333,1073 L343,1078 M335,1069 L342,1082" stroke-width="1.0" fill="none" />
<line x1="176.5" y1="1080" x2="273" y2="1052" stroke-width="2.0" />
<ellipse cx="315" cy="1140" rx="12.7" ry="8.4" stroke-width="1.5" fill="none" />
<ellipse cx="315" cy="1140" rx="4" ry="3" stroke-width="1.1" fill="none" />
<line x1="183" y1="1150" x2="302.5" y2="1141" stroke-width="2.0" />
<ellipse cx="315" cy="1166" rx="6" ry="4.5" stroke-width="2.0" fill="none" />
<path d="M309,1167 L309,1196 M321,1167 L321,1196" stroke-width="2.0" fill="none" />
<path d="M309,1176 Q315,1180 321,1176" stroke-width="1.6" fill="none" />
<path d="M309,1196 Q303,1198 303,1205 L303,1213 Q305,1218 315,1219 Q325,1218 327,1213 L327,1205 Q327,1198 321,1196" stroke-width="2.0" fill="none" />
<path d="M303,1205 Q315,1210 327,1205 M309,1208 L309,1218 M321,1208 L321,1218" stroke-width="1.3" fill="none" />
<line x1="183" y1="1215" x2="256.7" y2="1199.5" stroke-width="2.0" />
<path d="M241.4,1272 Q243,1268 246.5,1267 L256.7,1264.4 L297.4,1239 Q305,1234 312.6,1233.9 L322.8,1236.4 L353.3,1241.5 L373.7,1242.8 Q378,1245 378.8,1249 L380,1267 Q388,1270 389,1274.6 L387.7,1282 L378.8,1292.4 L338,1312.7 L317.7,1319 L310,1317.8 L272,1312.7 L254,1310 Q250,1306 250.3,1302.6 L249,1287.3 Q244,1285 242.7,1282.2 Z" stroke-width="1.6" fill="none" />
<ellipse cx="315" cy="1276" rx="43" ry="24.5" stroke-width="1.5" fill="none" />
<ellipse cx="314" cy="1241.5" rx="6" ry="4" stroke-width="1.4" fill="none" />
<ellipse cx="366" cy="1248" rx="6" ry="4" stroke-width="1.4" fill="none" />
<ellipse cx="376" cy="1277" rx="6" ry="4" stroke-width="1.4" fill="none" />
<ellipse cx="314" cy="1313" rx="6" ry="4" stroke-width="1.4" fill="none" />
<ellipse cx="264" cy="1306" rx="6" ry="4" stroke-width="1.4" fill="none" />
<ellipse cx="253" cy="1277" rx="6" ry="4" stroke-width="1.4" fill="none" />
<line x1="180" y1="1281" x2="241" y2="1281" stroke-width="2.0" />
<path d="M593,1075.6 L593,1030 L455.8,1107.7 L455.8,1155" stroke-width="1.0" fill="none" />
<path d="M455.8,1264.8 L455.8,1298 L315,1379 L315,1333" stroke-width="1.0" fill="none" />
<ellipse cx="592.5" cy="1145" rx="42.5" ry="24" stroke-width="2.0" fill="none" />
<ellipse cx="592.5" cy="1145" rx="40.5" ry="22" stroke-width="1.0" fill="none" />
<line x1="636" y1="1146.4" x2="718" y2="1149" stroke-width="2.0" />
<path d="M517,1233 Q517,1222 528,1216 L578,1190 Q590,1180 605,1187 L640,1188 Q660,1190 665,1200 L669,1210 L669,1230 Q668,1237 660,1240 L605,1268 Q596,1277 585,1272 L540,1268 Q524,1264 520,1255 Z" stroke-width="1.5" fill="none" />
<path d="M520,1240 Q522,1250 538,1258 L583,1262 Q596,1266 606,1260 L662,1230" stroke-width="1.0" fill="none" />
<path d="M517,1233 Q524,1240 528,1256" stroke-width="1.0" fill="none" />
<path d="M660,1199 Q664,1210 660,1222" stroke-width="1.0" fill="none" />
<ellipse cx="592.5" cy="1220.5" rx="43" ry="29" stroke-width="1.5" fill="none" />
<ellipse cx="593" cy="1222" rx="37" ry="24" stroke-width="1.2" fill="none" />
<ellipse cx="593" cy="1224" rx="30" ry="19" stroke-width="1.3" fill="none" />
<ellipse cx="593" cy="1226" rx="26" ry="15" stroke-width="1.2" fill="none" />
<path d="M550,1228 L550,1238 Q560,1252 593,1254 Q626,1252 636,1238 L636,1228" stroke-width="1.0" fill="none" />
<ellipse cx="593" cy="1192.5" rx="5" ry="3.3" stroke-width="1.3" fill="none" />
<ellipse cx="643.5" cy="1196" rx="5" ry="3.3" stroke-width="1.3" fill="none" />
<ellipse cx="654" cy="1225" rx="5" ry="3.3" stroke-width="1.3" fill="none" />
<ellipse cx="593" cy="1264" rx="5" ry="3.3" stroke-width="1.3" fill="none" />
<ellipse cx="542" cy="1255.5" rx="5" ry="3.3" stroke-width="1.3" fill="none" />
<ellipse cx="532" cy="1226" rx="5" ry="3.3" stroke-width="1.3" fill="none" />
<line x1="668" y1="1236" x2="718" y2="1237" stroke-width="2.0" />
<ellipse cx="592.5" cy="1297" rx="10.7" ry="6" stroke-width="1.6" fill="none" />
<ellipse cx="592.5" cy="1297" rx="5" ry="3" stroke-width="1.3" fill="none" />
<line x1="604" y1="1297.5" x2="715" y2="1301" stroke-width="2.0" />
<ellipse cx="592.3" cy="1315" rx="5" ry="3" stroke-width="1.2" fill="none" />
<path d="M587,1315 L587,1345 M597.7,1315 L597.7,1345" stroke-width="1.3" fill="none" />
<path d="M582,1348 L587,1344 L598,1344 L602,1348 L602,1357 L598,1361 L587,1361 L582,1357 Z" stroke-width="1.3" fill="none" />
<path d="M587,1344 L587,1361 M598,1344 L598,1361" stroke-width="1.0" fill="none" />
<path d="M590,1326 L592,1330 L595,1326" stroke-width="1.0" fill="none" />
<line x1="597.7" y1="1333.5" x2="712" y2="1361" stroke-width="2.0" />
<ellipse cx="731.8" cy="810.9" rx="213.6" ry="128.8" transform="rotate(-60.72 731.8 810.9)" stroke-width="1.5" fill="none" />
<ellipse cx="731.8" cy="810.9" rx="208.6" ry="123.8" transform="rotate(-60.72 731.8 810.9)" stroke-width="1.0" fill="none" />
<ellipse cx="734.8" cy="814.2" rx="198.6" ry="113.8" transform="rotate(-60.72 734.8 814.2)" stroke-width="1.6" fill="none" />
<ellipse cx="736.3" cy="812.6" rx="194.6" ry="109.8" transform="rotate(-60.72 736.3 812.6)" stroke-width="1.0" fill="none" />
<ellipse cx="737.8" cy="813.9" rx="190.6" ry="105.8" transform="rotate(-60.72 737.8 813.9)" stroke-width="1.1" fill="none" />
<ellipse cx="731.8" cy="812.9" rx="184.6" ry="99.8" transform="rotate(-60.72 731.8 812.9)" stroke-width="1.0" fill="none" />
<ellipse cx="773" cy="629" rx="3.3" ry="5" transform="rotate(20 773 629)" stroke-width="1.1" fill="none" />
<ellipse cx="838.6" cy="634.5" rx="3.3" ry="5" transform="rotate(20 838.6 634.5)" stroke-width="1.1" fill="none" />
<ellipse cx="876" cy="688.5" rx="3.3" ry="5" transform="rotate(20 876 688.5)" stroke-width="1.1" fill="none" />
<ellipse cx="877" cy="774" rx="3.3" ry="5" transform="rotate(20 877 774)" stroke-width="1.1" fill="none" />
<ellipse cx="839.5" cy="870.7" rx="3.3" ry="5" transform="rotate(20 839.5 870.7)" stroke-width="1.1" fill="none" />
<ellipse cx="773" cy="954" rx="3.3" ry="5" transform="rotate(20 773 954)" stroke-width="1.1" fill="none" />
<ellipse cx="697.8" cy="996" rx="3.3" ry="5" transform="rotate(20 697.8 996)" stroke-width="1.1" fill="none" />
<ellipse cx="632.4" cy="990" rx="3.3" ry="5" transform="rotate(20 632.4 990)" stroke-width="1.1" fill="none" />
<ellipse cx="595.7" cy="936" rx="3.3" ry="5" transform="rotate(20 595.7 936)" stroke-width="1.1" fill="none" />
<ellipse cx="596.3" cy="849.7" rx="3.3" ry="5" transform="rotate(20 596.3 849.7)" stroke-width="1.1" fill="none" />
<ellipse cx="633" cy="753" rx="3.3" ry="5" transform="rotate(20 633 753)" stroke-width="1.1" fill="none" />
<ellipse cx="697.8" cy="672" rx="3.3" ry="5" transform="rotate(20 697.8 672)" stroke-width="1.1" fill="none" />
<ellipse cx="730.5" cy="810" rx="21" ry="29.5" transform="rotate(22 730.5 810)" stroke-width="1.3" fill="none" />
<ellipse cx="730.5" cy="809.5" rx="28.5" ry="37.5" transform="rotate(20 730.5 809.5)" stroke-width="1.3" fill="none" />
<ellipse cx="729.8" cy="810" rx="31" ry="43" transform="rotate(20 729.8 810)" stroke-width="1.0" fill="none" />
<ellipse cx="728" cy="810" rx="35.5" ry="47" transform="rotate(20 728 810)" stroke-width="1.0" fill="none" />
<ellipse cx="726" cy="809.5" rx="39.5" ry="50" transform="rotate(20 726 809.5)" stroke-width="1.0" fill="none" />
<ellipse cx="723.8" cy="809" rx="43.5" ry="53" transform="rotate(20 723.8 809)" stroke-width="1.0" fill="none" />
<ellipse cx="720" cy="808" rx="49" ry="58" transform="rotate(20 720 808)" stroke-width="1.0" fill="none" />
<ellipse cx="716.8" cy="807" rx="54" ry="63" transform="rotate(20 716.8 807)" stroke-width="1.0" fill="none" />
<path d="M700,792 L712,790 L716,800 L708,808 Z" stroke-width="1.0" fill="none" />
<path d="M700,856 L706,846 L712,848 L708,852 Z" stroke-width="1.6" fill="none" />
<path d="M687,853 Q690,848 695,850 L693,856 Z" stroke-width="1.0" fill="none" />
<path d="M752,790 Q760,815 757,835" stroke-width="1.6" fill="none" />
<path d="M760,800 Q766,815 762,840" stroke-width="1.8" fill="none" stroke-dasharray="3,1.5"/>
<path d="M747,761 L750,772 L755,772 L753,762 Z" stroke-width="1.2" fill="none" />
<path d="M616.9,815.8 L692.5,786.5" stroke-width="1.0" fill="none" />
<path d="M624.2,808.5 L687.7,778" stroke-width="1.0" fill="none" />
<path d="M620,909 L691.5,870.7" stroke-width="1.0" fill="none" />
<path d="M614,915 L629,910 L644,900 L700,874" stroke-width="1.0" fill="none" />
<path d="M614,906 L614,917" stroke-width="1.0" fill="none" />
<path d="M624,910 L630,916" stroke-width="1.0" fill="none" />
<path d="M654,746 L654,782" stroke-width="1.0" fill="none" />
<path d="M659,746 L659,782" stroke-width="1.0" fill="none" />
<path d="M659,746 Q668,742 672,750 L675,765" stroke-width="1.0" fill="none" />
<path d="M655,772 L668,766 L680,774 L686,780" stroke-width="1.0" fill="none" />
<path d="M668,766 L676,770 L680,782" stroke-width="1.8" fill="none" />
<path d="M672,740 L690,733 L700,728" stroke-width="1.0" fill="none" />
<path d="M684,730 L684,712" stroke-width="1.0" fill="none" />
<path d="M699,700 L699,744" stroke-width="1.0" fill="none" stroke-dasharray="8,2"/>
<path d="M694,690 L694,744" stroke-width="1.0" fill="none" />
<path d="M680,697 Q700,675 732,666 Q760,652 790,650 L816,650 L821,654 L812,659 L762,683" stroke-width="1.0" fill="none" />
<path d="M818,657 L757,685" stroke-width="1.0" fill="none" />
<path d="M756.7,650 L756.7,718" stroke-width="1.0" fill="none" stroke-dasharray="10,2"/>
<path d="M762,650 L762,718" stroke-width="1.0" fill="none" />
<path d="M766.3,650 L766.3,712" stroke-width="1.0" fill="none" />
<path d="M777.6,675 L777.6,718" stroke-width="1.0" fill="none" stroke-dasharray="8,2"/>
<path d="M781,675 L781,716" stroke-width="1.0" fill="none" />
<path d="M784.6,675 L784.6,716" stroke-width="1.0" fill="none" />
<path d="M736,660 L736,713 M751.5,658 L751.5,713" stroke-width="1.0" fill="none" stroke-dasharray="9,2"/>
<path d="M736,661 Q744,654 751,660 M736,680 Q744,674 751,680 M736,692 Q744,686 751,692 M736,708 Q744,702 751,708" stroke-width="1.0" fill="none" />
<path d="M720,727 Q722,715 735,707 M723,744 Q725,735 737,730" stroke-width="1.0" fill="none" />
<path d="M683,731 L722,714 M690,740 L730,722" stroke-width="1.0" fill="none" stroke-dasharray="10,3"/>
<path d="M751.5,718.5 L847.4,697.5" stroke-width="1.0" fill="none" />
<path d="M756.7,737.6 L847.4,708" stroke-width="1.0" fill="none" />
<path d="M760,730.7 L842,700" stroke-width="1.0" fill="none" stroke-dasharray="12,3"/>
<path d="M847,697 Q852,702 849,710 L828,720 L780,737" stroke-width="1.0" fill="none" />
<path d="M752,832 L820,790 M756,841 L822,800" stroke-width="1.0" fill="none" />
<ellipse cx="805.5" cy="706.3" rx="12" ry="17" transform="rotate(15 805.5 706.3)" stroke-width="1.0" fill="none" />
<path d="M793,700 L818,712 M795,716 L816,698 M805,690 L806,722 M794,706 L817,706" stroke-width="1.0" fill="none" />
<ellipse cx="804" cy="725" rx="7" ry="5" stroke-width="1.0" fill="none" />
<path d="M820,670 Q826,664 838,667 Q847,672 843,680 L832,686 Q822,684 820,676 Z" stroke-width="1.2" fill="none" />
<path d="M817,676 Q812,690 825,697 L842,690" stroke-width="1.0" fill="none" />
<path d="M813,700 L813,688 L822,683" stroke-width="1.0" fill="none" />
<path d="M828.2,722 L828,760 L824.7,793.4 L818,830" stroke-width="1.0" fill="none" />
<path d="M833.4,716.7 L833,760 L830,800 L824,835" stroke-width="1.0" fill="none" />
<path d="M849,678 Q860,710 859.6,744.6 Q858,780 850,815" stroke-width="1.0" fill="none" />
<path d="M745.5,846.3 L744.7,884.6 L745.5,900.3 L752.5,914.3 L773.4,926.5" stroke-width="1.0" fill="none" />
<path d="M752.5,858.5 L764.7,877.6 L784,910.8 L780.4,919.5" stroke-width="1.0" fill="none" />
<path d="M745.5,902 Q755,898 763,903.8 Q768,912 760,918" stroke-width="1.0" fill="none" />
<path d="M742,846 L742,870" stroke-width="1.0" fill="none" />
<path d="M741,852 L750,852" stroke-width="1.6" fill="none" />
<path d="M724,862 L737,884 L745,882" stroke-width="1.0" fill="none" />
<path d="M658.4,888 L660,910.8 L667,940 L672.3,971.8 L682.8,978.8" stroke-width="1.0" fill="none" />
<path d="M654,892 L656,912 L664,946 L670,975" stroke-width="1.0" fill="none" />
<path d="M644,900 L658,894 L662,904" stroke-width="1.0" fill="none" />
<path d="M667,947.4 L757.7,914.3" stroke-width="1.0" fill="none" />
<path d="M670.6,964.8 L764.7,923" stroke-width="1.0" fill="none" />
<path d="M675,972 L775,931" stroke-width="1.0" fill="none" />
<path d="M661.8,924.7 L738.6,891.6" stroke-width="1.0" fill="none" stroke-dasharray="10,3"/>
<path d="M664,935 L742,901" stroke-width="1.0" fill="none" stroke-dasharray="10,3"/>
<path d="M664,930 Q672,925 677,933 Q678,942 670,946" stroke-width="1.6" fill="none" />
<path d="M620,956 Q640,975 670,981 Q705,986 740,978 Q770,965 790,945" stroke-width="1.0" fill="none" />
<path d="M600,890 Q605,930 625,956" stroke-width="1.0" fill="none" />
<path d="M557.4,647.8 L644.6,597.2 L653.3,596.3 L662,592.8 L665.5,593.7 L672.5,595.5 L693.4,607.7 L704,608.5 L733.5,625" stroke-width="1.1" fill="none" stroke-dasharray="14,3"/>
<path d="M655,599 L679.5,614.6 L693.4,609.4" stroke-width="1.0" fill="none" />
<path d="M571.4,674 L620,701 L679.5,672" stroke-width="1.0" fill="none" stroke-dasharray="14,3"/>
<path d="M568,680 L620,708" stroke-width="1.0" fill="none" stroke-dasharray="10,3"/>
<path d="M557.4,649.5 Q548,652 544,660 Q542,670 550,675 L556,678" stroke-width="1.1" fill="none" />
<path d="M557,650 L583.6,662 Q586,668 580,672 L556,678" stroke-width="1.1" fill="none" />
<path d="M560,656 L578,664 M556,662 L574,670" stroke-width="1.0" fill="none" />
<ellipse cx="641" cy="606.8" rx="3.5" ry="2.2" stroke-width="1.1" fill="none" />
<ellipse cx="635" cy="618" rx="3.5" ry="2.2" stroke-width="1.1" fill="none" />
<ellipse cx="648" cy="618" rx="3.5" ry="2.2" stroke-width="1.1" fill="none" />
<ellipse cx="669" cy="615.5" rx="3.5" ry="2.2" stroke-width="1.1" fill="none" />
<ellipse cx="717" cy="623.4" rx="3.5" ry="2.2" stroke-width="1.1" fill="none" />
<ellipse cx="699.5" cy="633" rx="3.5" ry="2.2" stroke-width="1.1" fill="none" />
<ellipse cx="629" cy="624.2" rx="3.5" ry="2.5" stroke-width="2.0" fill="none" />
<ellipse cx="611.5" cy="635.6" rx="3.5" ry="2.2" stroke-width="1.1" fill="none" />
<ellipse cx="599.3" cy="642.5" rx="3.5" ry="2.2" stroke-width="1.1" fill="none" />
<ellipse cx="588" cy="648.6" rx="3.5" ry="2.2" stroke-width="1.1" fill="none" />
<ellipse cx="602" cy="655.6" rx="3.5" ry="2.2" stroke-width="2.0" fill="none" />
<ellipse cx="602.8" cy="662.6" rx="5" ry="3" stroke-width="1.1" fill="none" />
<ellipse cx="622.8" cy="677.4" rx="3.5" ry="2.2" stroke-width="1.1" fill="none" />
<ellipse cx="609" cy="685.3" rx="3.5" ry="2.2" stroke-width="1.1" fill="none" />
<ellipse cx="639.4" cy="631.2" rx="13" ry="7.5" stroke-width="1.1" fill="none" />
<ellipse cx="639.4" cy="632" rx="7" ry="4" stroke-width="1.8" fill="none" />
<ellipse cx="618.5" cy="653" rx="10" ry="6.5" stroke-width="1.1" fill="none" />
<ellipse cx="618.5" cy="654" rx="6" ry="3.5" stroke-width="1.8" fill="none" />
<path d="M643,655 Q648,645 661,645 Q678,645 681,656" stroke-width="1.6" fill="none" />
<ellipse cx="661.2" cy="657" rx="9.5" ry="6" stroke-width="1.1" fill="none" />
<ellipse cx="637.6" cy="667" rx="11" ry="7" stroke-width="1.0" fill="none" />
<ellipse cx="640" cy="667" rx="3.5" ry="2.2" stroke-width="1.0" fill="none" />
<ellipse cx="654.2" cy="674.8" rx="8" ry="5.5" stroke-width="1.1" fill="none" />
<ellipse cx="654.2" cy="675.5" rx="5" ry="3" stroke-width="1.8" fill="none" />
<ellipse cx="669" cy="652" rx="2" ry="1.5" stroke-width="1.0" fill="none" />
<ellipse cx="651" cy="664" rx="2" ry="1.5" stroke-width="1.0" fill="none" />
<path d="M681,660 L684,668 L688,668" stroke-width="1.2" fill="none" />
<path d="M537,701.4 L533,713 L533,830" stroke-width="1.0" fill="none" stroke-dasharray="12,2"/>
<path d="M552.7,674 L552.7,689.7 Q545,695 537,701.4" stroke-width="1.0" fill="none" />
<path d="M556,678 L556,690 Q560,700 566,705" stroke-width="1.0" fill="none" />
<path d="M569.7,698.8 Q578,694 590,697 L615,712 Q624,720 622,731.5 L620,760 Q615,768 605,770 L585,765 Q572,758 570,745 Z" stroke-width="1.1" fill="none" />
<ellipse cx="595.8" cy="738" rx="13.5" ry="19" transform="rotate(22 595.8 738)" stroke-width="1.1" fill="none" />
<ellipse cx="577.5" cy="708" rx="3" ry="4.5" transform="rotate(20 577.5 708)" stroke-width="1.1" fill="none" />
<ellipse cx="614" cy="729" rx="3" ry="4.5" transform="rotate(20 614 729)" stroke-width="1.1" fill="none" />
<ellipse cx="577.5" cy="747" rx="3" ry="4.5" transform="rotate(20 577.5 747)" stroke-width="1.1" fill="none" />
<path d="M561,699 Q568,690 578,698 L575,712 L563,712 Z" stroke-width="1.0" fill="none" />
<ellipse cx="565" cy="715" rx="2" ry="3" stroke-width="1.0" fill="none" />
<ellipse cx="544.5" cy="752.6" rx="5" ry="6" transform="rotate(10 544.5 752.6)" stroke-width="2.2" fill="none" />
<ellipse cx="544.5" cy="752.6" rx="2.5" ry="3.5" transform="rotate(10 544.5 752.6)" stroke-width="1.0" fill="none" />
<ellipse cx="544.5" cy="752.6" rx="9.5" ry="10.5" transform="rotate(10 544.5 752.6)" stroke-width="1.2" fill="none" />
<ellipse cx="544.5" cy="774.5" rx="4" ry="5" transform="rotate(10 544.5 774.5)" stroke-width="2.2" fill="none" />
<ellipse cx="544.5" cy="774.5" rx="2" ry="3" transform="rotate(10 544.5 774.5)" stroke-width="1.0" fill="none" />
<ellipse cx="544.5" cy="774.5" rx="7.5" ry="9" transform="rotate(10 544.5 774.5)" stroke-width="1.2" fill="none" />
<path d="M537,760 Q536,775 540,784 L548,786 L556,780 L560,765 L558,752" stroke-width="1.0" fill="none" />
<path d="M553,742 Q562,738 568,748 Q570,765 562,780" stroke-width="1.0" fill="none" />
<path d="M532.7,790 L534.3,818.5 Q536,822 539.8,826.3 L547.6,835.8" stroke-width="1.0" fill="none" stroke-dasharray="8,2"/>
<path d="M539.8,791 Q545,815 551.5,822.4 L559.4,821.6" stroke-width="1.0" fill="none" />
<path d="M548,800 L553,818 M556,798 L558,815" stroke-width="1.0" fill="none" />
<path d="M551.5,786 L578,788 M551.5,792 L580,796 M556,784.7 L572,786" stroke-width="2.2" fill="none" />
<path d="M570,784 L582,790 L590,796 M572,792 L588,800" stroke-width="1.4" fill="none" />
<path d="M578,800 L590,806 M576,806 L590,812 M574,812 L588,818" stroke-width="1.2" fill="none" />
<ellipse cx="567.2" cy="826.3" rx="6" ry="8" transform="rotate(20 567.2 826.3)" stroke-width="1.1" fill="none" />
<path d="M555.5,838 Q548,830 552,818 Q560,808 572,806 Q582,808 580,822 Q576,836 565,840 Z" stroke-width="1.1" fill="none" />
<path d="M568.8,751.8 L601.8,774.5 M583.7,763.5 L583.7,785.5 M591.6,769 L591.6,787" stroke-width="1.0" fill="none" />
<path d="M575,768 L570,780" stroke-width="1.0" fill="none" />
<ellipse cx="578.2" cy="747" rx="3" ry="5" transform="rotate(20 578.2 747)" stroke-width="1.1" fill="none" />
<path d="M586,789 L592,794 L588,797" stroke-width="1.0" fill="none" />
<path d="M580,840 L584,832 L586,845" stroke-width="1.6" fill="none" />
<path d="M620,701 L622,718 L632,728 L625,745 L612,760 L600,790" stroke-width="1.6" fill="none" />
<path d="M582,665 Q590,680 598,690 Q612,700 620,701" stroke-width="1.0" fill="none" />
<path d="M636,700 L642,715 L632,728 M640,703 L655,690" stroke-width="1.0" fill="none" />
</svg></body></html>
